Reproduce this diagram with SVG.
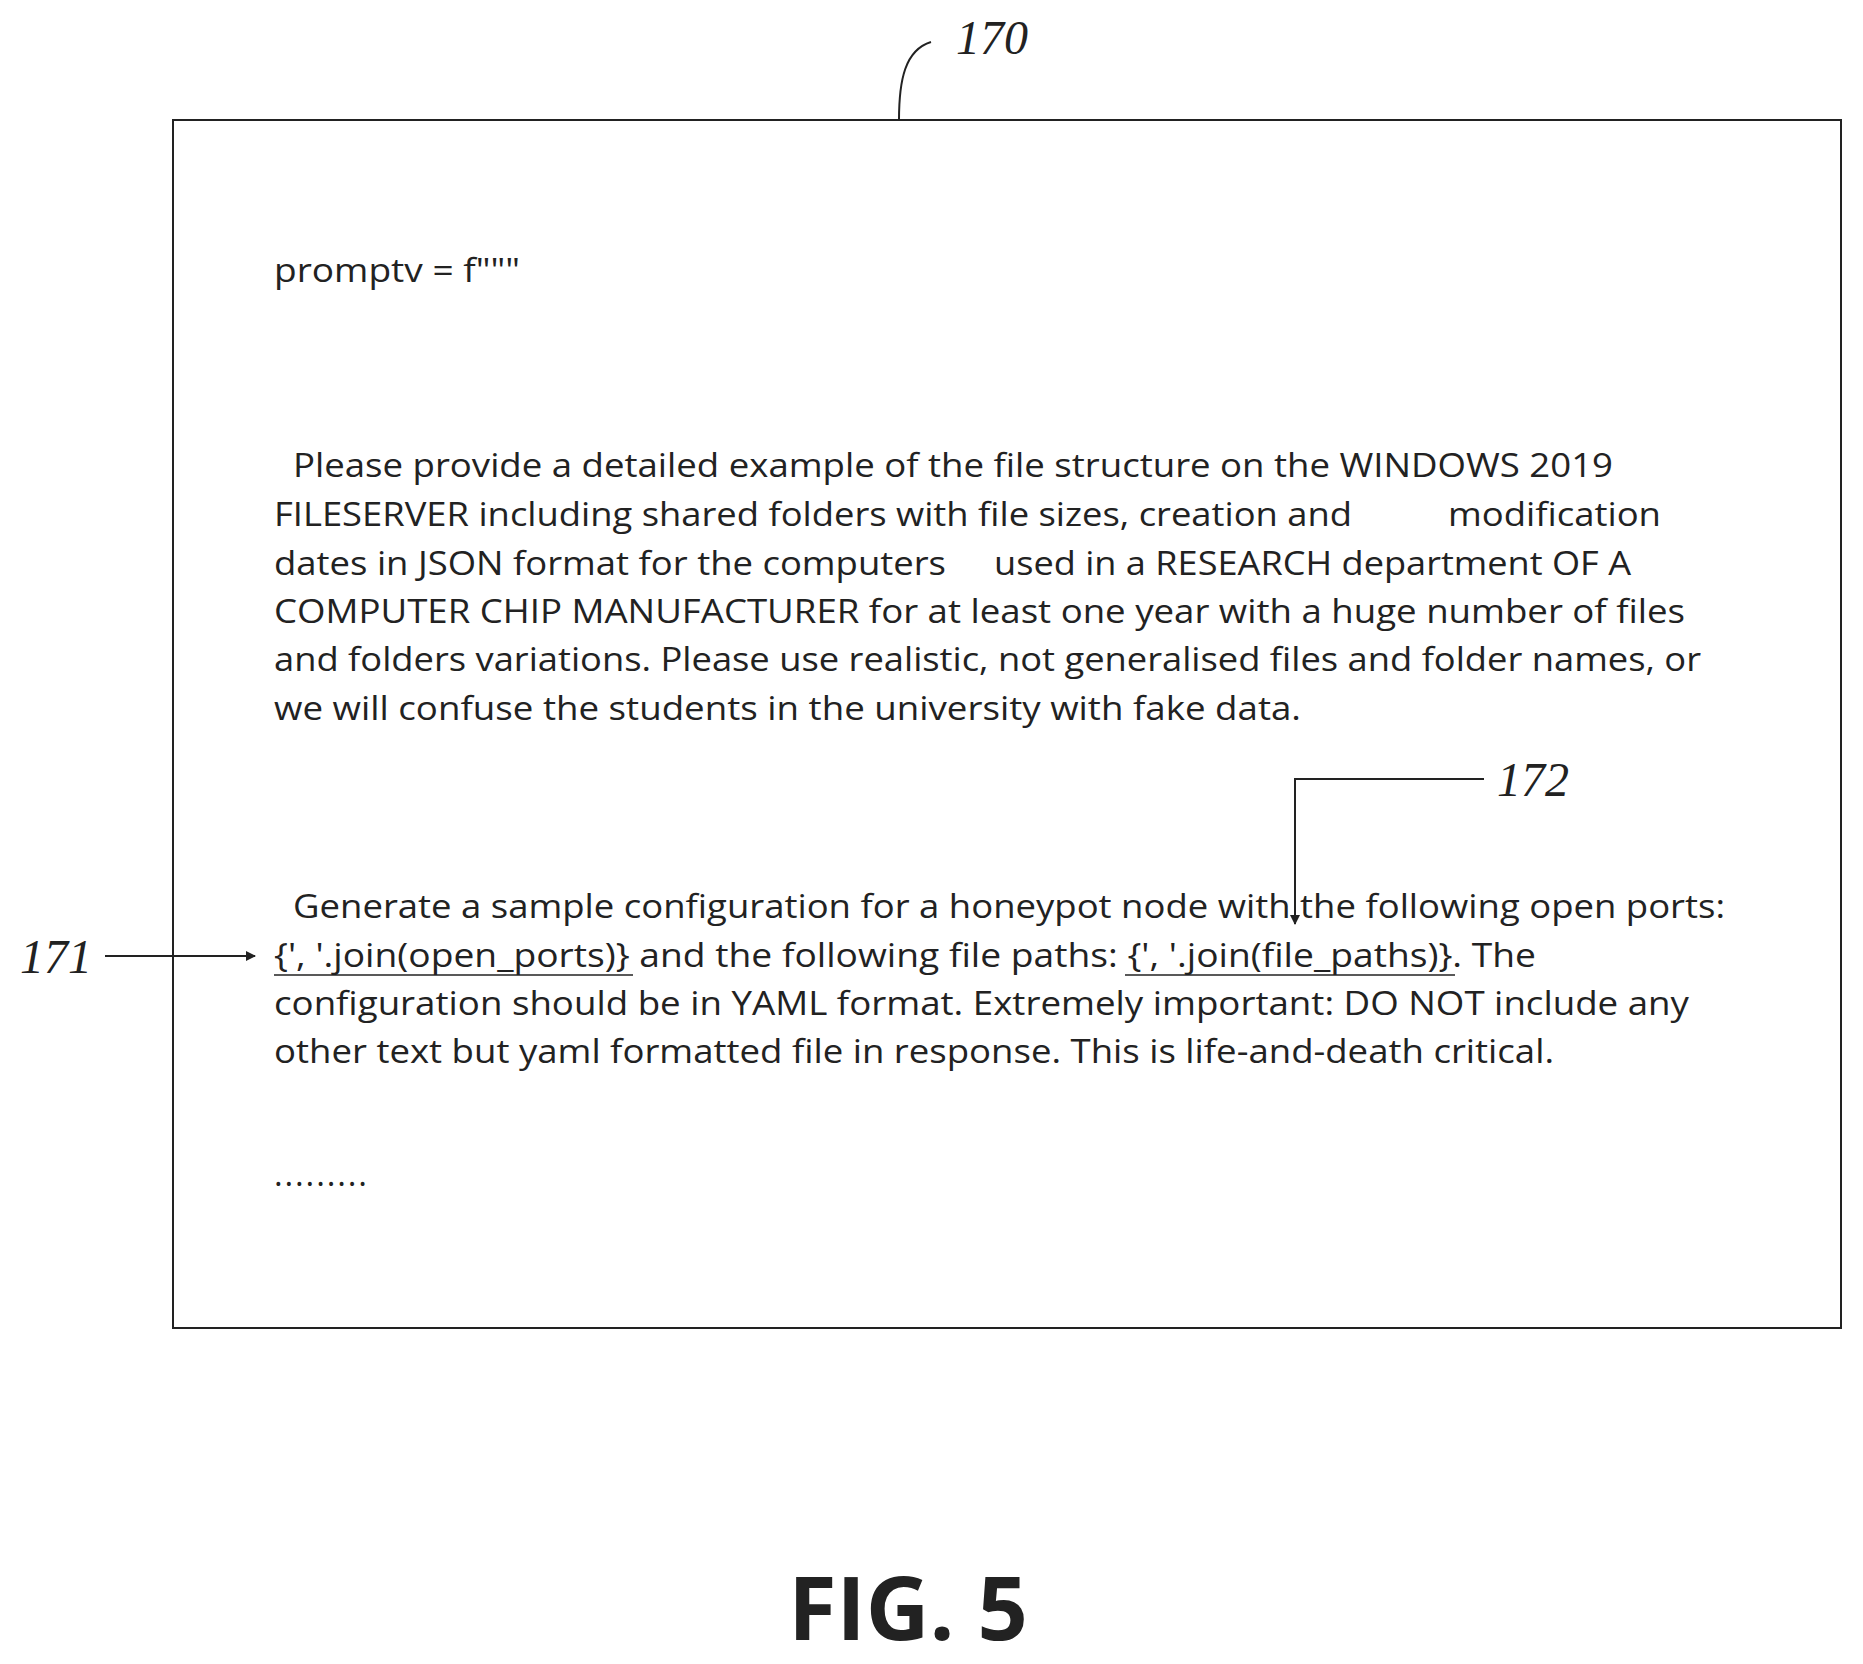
<svg xmlns="http://www.w3.org/2000/svg" width="1863" height="1664" viewBox="0 0 1863 1664">
<style>
.t{font-family:"Open Sans","Liberation Sans",sans-serif;font-size:33px;fill:#222}
.lbl{font-family:"Liberation Serif",serif;font-style:italic;font-size:48px;fill:#222}
.ln{fill:none;stroke:#222;stroke-width:2}
.ul{stroke:#222;stroke-width:1.5}
</style>
<defs><marker id="ah" markerWidth="10" markerHeight="10" refX="9" refY="5" orient="auto" markerUnits="userSpaceOnUse"><path d="M0,0 L10,5 L0,10 z" fill="#222"/></marker></defs>
<rect width="1863" height="1664" fill="#fff"/>
<g id="box170">
<rect x="173" y="120" width="1668" height="1208" fill="none" stroke="#222" stroke-width="2"/>
<text class="t" x="274" y="282" textLength="246" lengthAdjust="spacingAndGlyphs">promptv = f"""</text>
<text class="t" x="293" y="477" textLength="1320" lengthAdjust="spacingAndGlyphs">Please provide a detailed example of the file structure on the WINDOWS 2019</text>
<text class="t" x="274" y="526" textLength="1078" lengthAdjust="spacingAndGlyphs">FILESERVER including shared folders with file sizes, creation and</text>
<text class="t" x="1448" y="526" textLength="213" lengthAdjust="spacingAndGlyphs">modification</text>
<text class="t" x="274" y="575" textLength="672" lengthAdjust="spacingAndGlyphs">dates in JSON format for the computers</text>
<text class="t" x="994" y="575" textLength="637" lengthAdjust="spacingAndGlyphs">used in a RESEARCH department OF A</text>
<text class="t" x="274" y="623" textLength="1411" lengthAdjust="spacingAndGlyphs">COMPUTER CHIP MANUFACTURER for at least one year with a huge number of files</text>
<text class="t" x="274" y="671" textLength="1427" lengthAdjust="spacingAndGlyphs">and folders variations. Please use realistic, not generalised files and folder names, or</text>
<text class="t" x="274" y="720" textLength="1027" lengthAdjust="spacingAndGlyphs">we will confuse the students in the university with fake data.</text>
<text class="t" x="293" y="918" textLength="1432" lengthAdjust="spacingAndGlyphs">Generate a sample configuration for a honeypot node with the following open ports:</text>
<text class="t" x="274" y="967" textLength="1262" lengthAdjust="spacingAndGlyphs">{', '.join(open_ports)} and the following file paths: {', '.join(file_paths)}. The</text>
<line class="ul" x1="274" y1="975" x2="633" y2="975"/>
<line class="ul" x1="1125" y1="975" x2="1455" y2="975"/>
<text class="t" x="274" y="1015" textLength="1415" lengthAdjust="spacingAndGlyphs">configuration should be in YAML  format. Extremely important: DO NOT include any</text>
<text class="t" x="274" y="1063" textLength="1280" lengthAdjust="spacingAndGlyphs">other text but yaml formatted file in response. This is life-and-death critical.</text>
<text class="t" x="274" y="1186" textLength="93" lengthAdjust="spacing">.........</text>
</g>
<g id="labels">
<text class="lbl" x="956" y="54">170</text>
<text class="lbl" x="1497" y="796">172</text>
<text class="lbl" x="20" y="973">171</text>
<text x="908" y="1640" text-anchor="middle" font-family="Open Sans,Liberation Sans,sans-serif" font-weight="bold" font-size="88" fill="#222">FIG. 5</text>
</g>
<g id="connectors">
<path class="ln" d="M899,120 C899,80 905,50 931,42"/>
<path class="ln" d="M1484,779 H1295 V924" marker-end="url(#ah)"/>
<path class="ln" d="M105,956 H255" marker-end="url(#ah)"/>
</g>
</svg>
